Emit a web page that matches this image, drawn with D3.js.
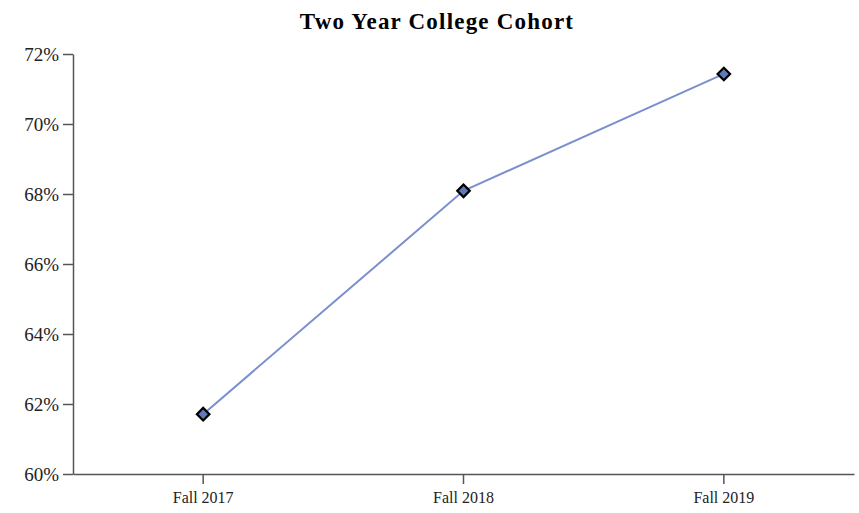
<!DOCTYPE html>
<html>
<head>
<meta charset="utf-8">
<script src="https://cdn.jsdelivr.net/npm/d3@7"></script>
<style>
  body { margin: 0; background: #fff; }
  svg { display: block; font-family: "Liberation Serif", "DejaVu Serif", serif; }
  .axis path, .axis line { stroke: #555; stroke-width: 1.5; }
  .axis text { fill: #222; }
</style>
</head>
<body>
<div id="chart"></div>
<script>
const terms = ["Fall 2017", "Fall 2018", "Fall 2019"];
const rates = [0.6171, 0.6809, 0.7143];
const yTicks = [0.60, 0.62, 0.64, 0.66, 0.68, 0.70, 0.72];

const W = 859, H = 513;
const margin = { top: 54, right: 5, bottom: 39, left: 73 };
const innerW = W - margin.left - margin.right;
const innerH = H - margin.top - margin.bottom;
const FONT = '"Liberation Serif", "DejaVu Serif", serif';

const svg = d3.select("#chart")
  .append("svg")
  .attr("width", W)
  .attr("height", H);

svg.append("text")
  .attr("x", 437)
  .attr("y", 29)
  .attr("text-anchor", "middle")
  .attr("font-size", 23)
  .attr("letter-spacing", 1.2)
  .attr("font-weight", "bold")
  .text("Two Year College Cohort");

const g = svg.append("g")
  .attr("transform", `translate(${margin.left},${margin.top})`);

const x = d3.scaleBand().domain(terms).range([0, innerW]).padding(0);
const y = d3.scaleLinear().domain([0.60, 0.72]).range([innerH, 0]);

g.append("g")
  .attr("class", "axis")
  .attr("transform", `translate(0,${innerH})`)
  .call(d3.axisBottom(x).tickSize(10).tickSizeOuter(0).tickPadding(8))
  .attr("font-family", FONT)
  .selectAll("text")
  .attr("font-size", 16);

g.append("g")
  .attr("class", "axis")
  .call(d3.axisLeft(y).tickValues(yTicks).tickFormat(d3.format(".0%")).tickSize(10).tickSizeOuter(0).tickPadding(4))
  .attr("font-family", FONT)
  .selectAll("text")
  .attr("font-size", 19);

const data = terms.map((t, i) => ({ term: t, rate: rates[i] }));
const cx = (d) => x(d.term) + x.bandwidth() / 2;

g.append("path")
  .datum(data)
  .attr("fill", "none")
  .attr("stroke", "#7b8fcf")
  .attr("stroke-width", 2)
  .attr("d", d3.line().x(cx).y((d) => y(d.rate)));

g.selectAll(".pt")
  .data(data)
  .join("path")
  .attr("class", "pt")
  .attr("transform", (d) => `translate(${cx(d)},${y(d.rate)})`)
  .attr("d", d3.symbol(d3.symbolDiamond2, 100)())
  .attr("fill", "#5f7ab8")
  .attr("stroke", "#000")
  .attr("stroke-width", 2.2);
</script>
</body>
</html>
